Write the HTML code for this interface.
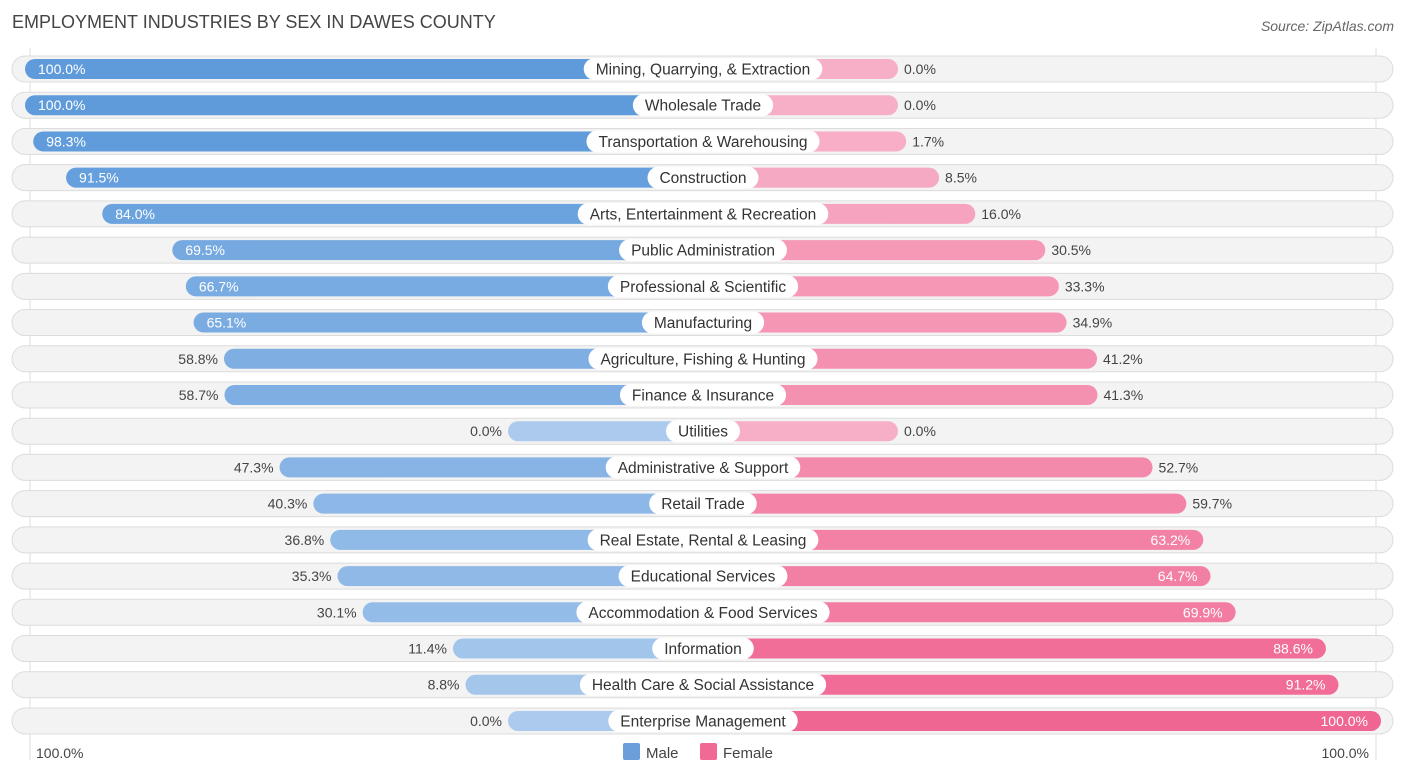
<!DOCTYPE html>
<html><head><meta charset="utf-8"><style>
body{margin:0;background:#fff;font-family:"Liberation Sans",sans-serif;}
svg text{font-family:"Liberation Sans",sans-serif;}
</style></head><body>
<svg id="chart" width="1406" height="777" xmlns="http://www.w3.org/2000/svg">
<text x="12" y="28" font-size="18" fill="#444">EMPLOYMENT INDUSTRIES BY SEX IN DAWES COUNTY</text>
<text x="1394" y="31" font-size="14" fill="#666" font-style="italic" text-anchor="end">Source: ZipAtlas.com</text>
<line x1="30" y1="48" x2="30" y2="760" stroke="#ddd"/>
<line x1="1376" y1="48" x2="1376" y2="760" stroke="#ddd"/>
<g id="rows"></g>
<text x="36" y="758" font-size="14" fill="#444">100.0%</text>
<text x="1369" y="758" font-size="14" fill="#444" text-anchor="end">100.0%</text>
<rect x="623" y="743" width="17" height="17" rx="2" fill="#6a9fdc"/>
<text x="646" y="758" font-size="15" fill="#444">Male</text>
<rect x="700" y="743" width="17" height="17" rx="2" fill="#f06a94"/>
<text x="723" y="758" font-size="15" fill="#444">Female</text>
</svg>
<script>
const categories=["Mining, Quarrying, & Extraction","Wholesale Trade","Transportation & Warehousing","Construction","Arts, Entertainment & Recreation","Public Administration","Professional & Scientific","Manufacturing","Agriculture, Fishing & Hunting","Finance & Insurance","Utilities","Administrative & Support","Retail Trade","Real Estate, Rental & Leasing","Educational Services","Accommodation & Food Services","Information","Health Care & Social Assistance","Enterprise Management"];
const maleValues=[100,100,98.3,91.5,84.0,69.5,66.7,65.1,58.8,58.7,0,47.3,40.3,36.8,35.3,30.1,11.4,8.8,0];
const femaleValues=[0,0,1.7,8.5,16.0,30.5,33.3,34.9,41.2,41.3,0,52.7,59.7,63.2,64.7,69.9,88.6,91.2,100];
const NS="http://www.w3.org/2000/svg";
const cx=703,stub=195,scale=4.83,y0=69,dy=36.22;
function xMale(v){return cx-stub-v*scale;}
function xFemale(v){return cx+stub+v*scale;}
function yRow(i){return y0+i*dy;}
function mix(a,b,t){const p=s=>[1,3,5].map(k=>parseInt(s.substr(k,2),16));const A=p(a),B=p(b);return "rgb("+A.map((c,k)=>Math.round(c+(B[k]-c)*t)).join(",")+")";}
function mk(tag,attrs,parent){const e=document.createElementNS(NS,tag);for(const k in attrs)e.setAttribute(k,attrs[k]);parent.appendChild(e);return e;}
const g=document.getElementById("rows");
categories.forEach((c,i)=>{
  const y=yRow(i);
  const row=mk("g",{},g);
  
  
  const bg=mk("rect",{x:12,y:y-13,width:1381,height:26,rx:13,fill:"#f3f3f3",stroke:"#dcdcdc"},row);
  
  
  const mv=maleValues[i],fv=femaleValues[i];
  const mx=xMale(mv);
  const mb=mk("rect",{x:mx,y:y-10,width:cx-mx,height:20,rx:10,fill:mix("#abcaed","#5f9bdb",mv/100)},row);
  
  
  const fx=xFemale(fv);
  const fb=mk("rect",{x:cx,y:y-10,width:fx-cx,height:20,rx:10,fill:mix("#f7afc7","#f06692",fv/100)},row);
  
  
  const mIn=mv>60;
  const mt=mk("text",{x:mIn?mx+13:mx-6,y:y+5,"font-size":14,fill:mIn?"#fff":"#444","text-anchor":mIn?"start":"end"},row);
  mt.textContent=mv.toFixed(1)+"%";
  
  
  const fIn=fv>60;
  const ft=mk("text",{x:fIn?fx-13:fx+6,y:y+5,"font-size":14,fill:fIn?"#fff":"#444","text-anchor":fIn?"end":"start"},row);
  ft.textContent=fv.toFixed(1)+"%";
  
  
  const lt=mk("text",{x:cx,y:y+5.5,"font-size":15.5,fill:"#333","text-anchor":"middle"},row);
  lt.textContent=c;
  
  
  const w=lt.getComputedTextLength()+24;
  const lb=mk("rect",{x:cx-w/2,y:y-11,width:w,height:22,rx:11,fill:"#fff"},row);
  
  
  row.insertBefore(lb,lt);
});
</script>
</body></html>
